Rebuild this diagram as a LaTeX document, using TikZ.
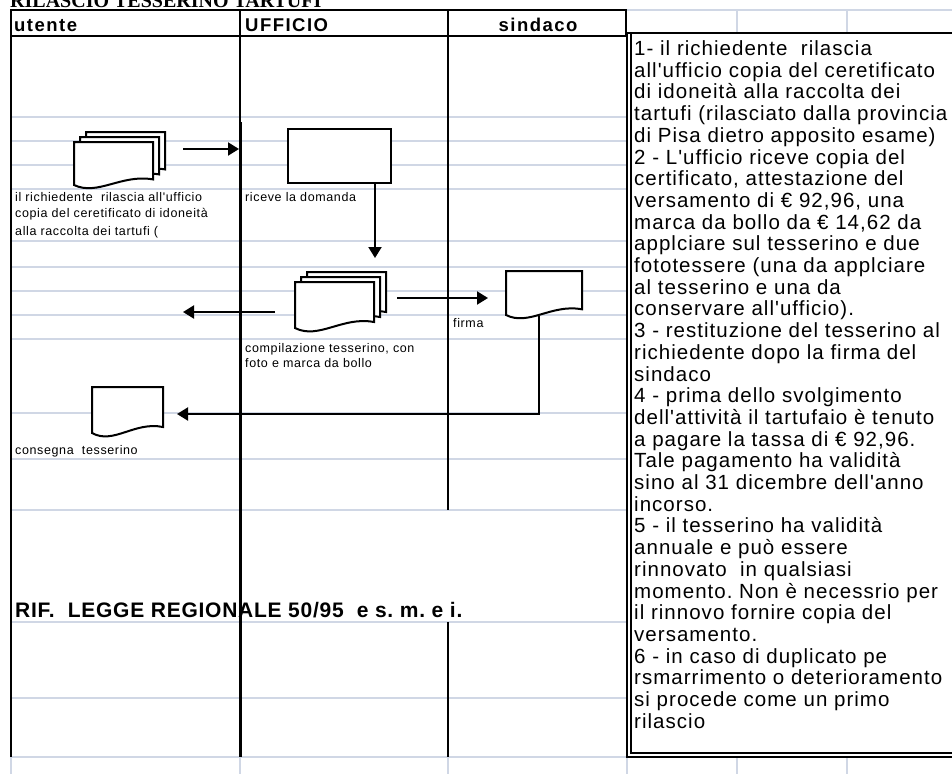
\documentclass[tikz,border=0pt]{standalone}
\usepackage{fontspec}
\setmainfont{Liberation Sans}
\newfontfamily\pfont[LetterSpace=5]{Liberation Sans}
\newfontfamily\hfont[LetterSpace=8]{Liberation Sans}
\newfontfamily\rfont[LetterSpace=3.5]{Liberation Sans}
\newfontfamily\lfont[LetterSpace=5]{Liberation Sans}
\newfontfamily\tfont{Liberation Serif}
\usetikzlibrary{arrows.meta}
\frenchspacing
\definecolor{gridc}{RGB}{208,215,229}
\tikzset{
  gridl/.style={draw=gridc, line width=1.3pt},
  docst/.style={draw=black, fill=white, line width=2pt, line join=miter},
  arr/.style={line width=2pt, -{Triangle[length=11pt,width=13pt]}},
  lbl/.style={anchor=base west, inner sep=0pt, font=\lfont\fontsize{12.5}{15}\selectfont},
  ptxt/.style={anchor=base west, inner sep=0pt, font=\pfont\fontsize{20.5}{21.7}\selectfont},
  hdr/.style={inner sep=0pt, font=\hfont\bfseries\fontsize{18.5}{20}\selectfont},
}
\newcommand\mydoc[4]{%
  \filldraw[docst] ({#1},{#2}) -- ({#1+#3},{#2}) -- ({#1+#3},{#2+0.87*#4})
    .. controls ({#1+0.6*#3},{#2+0.74*#4}) and ({#1+0.3*#3},{#2+1.26*#4}) .. ({#1},{#2+#4}) -- cycle;}
\newcommand\multidoc[4]{%
  \mydoc{#1+12}{#2-10}{#3}{#4}\mydoc{#1+6}{#2-5}{#3}{#4}\mydoc{#1}{#2}{#3}{#4}}
\begin{document}
\begin{tikzpicture}[x=1pt,y=-1pt]
\useasboundingbox (0,0) rectangle (952,774);
\fill[white] (0,0) rectangle (952,774);
% title (cut off at top)
\begin{scope}
  \clip (0,0) rectangle (952,774);
  \node[anchor=base west, inner sep=0pt, font=\tfont\bfseries\fontsize{20}{22}\selectfont] (title) at (10,7) {RILASCIO TESSERINO TARTUFI};
\end{scope}
% light grid
\foreach \yy in {117,141,165,189,241,267,291,315,339,413,459,510,622,698}
  \draw[gridl] (11,\yy) -- (627,\yy);
\draw[gridl] (11,757) -- (952,757);
\draw[gridl] (626,10) -- (952,10);
\foreach \xx in {737,847} {
  \draw[gridl] (\xx,10) -- (\xx,33);
  \draw[gridl] (\xx,757) -- (\xx,774);
}
\foreach \xx in {11,240,448,627}
  \draw[gridl] (\xx,757) -- (\xx,774);
% table lines
\draw[line width=2pt] (10,10) -- (627,10);
\draw[line width=2pt] (10,36) -- (627,36);
\draw[line width=1.2pt] (11,10) -- (11,757);
\draw[line width=1.6pt] (240,10) -- (240,122);
\draw[line width=3pt] (240,122) -- (240,757);
\draw[line width=2pt] (448,10) -- (448,510);
\draw[line width=2pt] (448,622) -- (448,757);
\draw[line width=2pt] (626,10) -- (626,36);
% headers
\node[hdr, anchor=base west] (hu) at (14,31) {utente};
\node[hdr, anchor=base west] (hf) at (245,31) {UFFICIO};
\node[hdr, anchor=base] (hs) at (538,31) {sindaco};
% shapes
\multidoc{74}{142}{79}{43}
\node[draw, fill=white, line width=2pt, minimum width=103pt, minimum height=54pt, inner sep=0pt] (rbox) at (339.5,156) {};
\multidoc{295}{282}{79}{46}
\mydoc{506}{271}{76}{44}
\mydoc{92}{387}{71}{46}
% connectors
\coordinate (a1s) at (183,149); \coordinate (a1e) at (239,149);
\draw[arr] (a1s) -- (a1e);
\coordinate (a2e) at (375,258);
\draw[arr] (a2e |- rbox.south) -- (a2e);
\coordinate (a3s) at (397,298); \coordinate (a3e) at (488,298);
\draw[arr] (a3s) -- (a3e);
\coordinate (a4s) at (275,312); \coordinate (a4e) at (183,312);
\draw[arr] (a4s) -- (a4e);
\coordinate (a5s) at (539,316); \coordinate (a5e) at (177,414);
\draw[arr] (a5s) |- (a5e);
% labels
\node[lbl] (l1a) at (15,201) {il richiedente\ \ rilascia all'ufficio};
\node[lbl] (l1b) at (15,217) {copia del ceretificato di idoneità};
\node[lbl] (l1c) at (15,235) {alla raccolta dei tartufi (};
\node[lbl] (l2) at (245,201) {riceve la domanda};
\node[lbl] (l3a) at (245,352) {compilazione tesserino, con};
\node[lbl] (l3b) at (245,367) {foto e marca da bollo};
\node[lbl] (l4) at (453,327) {firma};
\node[lbl] (l5) at (15,454) {consegna\ \ tesserino};
\node[anchor=base west, inner sep=0pt, font=\rfont\bfseries\fontsize{21}{24}\selectfont] (rif) at (15,617) {RIF.\ \ LEGGE REGIONALE 50/95\ \ e s. m. e i.};
% text panel
\draw[line width=2pt, fill=white] (627,33) rectangle (970,757);
\draw[line width=1.2pt] (631,33) -- (631,753) -- (970,753);
\foreach \t [count=\i] in {
  {1- il richiedente\ \ rilascia},
  {all'ufficio copia del ceretificato},
  {di idoneità alla raccolta dei},
  {tartufi (rilasciato dalla provincia},
  {di Pisa dietro apposito esame)},
  {2 - L'ufficio riceve copia del},
  {certificato, attestazione del},
  {versamento di € 92,96, una},
  {marca da bollo da € 14,62 da},
  {applciare sul tesserino e due},
  {fototessere (una da applciare},
  {al tesserino e una da},
  {conservare all'ufficio).},
  {3 - restituzione del tesserino al},
  {richiedente dopo la firma del},
  {sindaco},
  {4 - prima dello svolgimento},
  {dell'attività il tartufaio è tenuto},
  {a pagare la tassa di € 92,96.},
  {Tale pagamento ha validità},
  {sino al 31 dicembre dell'anno},
  {incorso.},
  {5 - il tesserino ha validità},
  {annuale e può essere},
  {rinnovato\ \ in qualsiasi},
  {momento. Non è necessrio per},
  {il rinnovo fornire copia del},
  {versamento.},
  {6 - in caso di duplicato pe},
  {rsmarrimento o deterioramento},
  {si procede come un primo},
  {rilascio}}
  \node[ptxt] (p\i) at (634,{55.5+21.7*(\i-1)}) {\t};
\end{tikzpicture}
\end{document}
